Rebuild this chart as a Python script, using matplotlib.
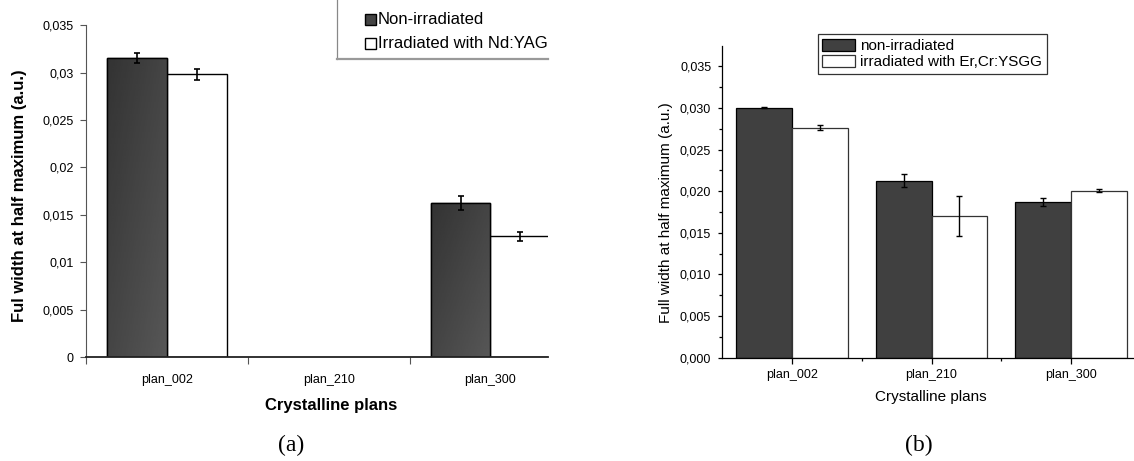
import numpy as np
import matplotlib
matplotlib.use('Agg')
import matplotlib.pyplot as plt
from matplotlib.patches import Rectangle
from matplotlib.lines import Line2D

plt.rcParams['font.family'] = ['Liberation Sans', 'DejaVu Sans']

# dados
planos = ['plan_002', 'plan_210', 'plan_300']

# (a) Nd:YAG  (plan_210 sem medida)
a_nao = [0.03158, np.nan, 0.01626]
a_nao_err = [0.00053, np.nan, 0.00077]
a_irr = [0.02982, np.nan, 0.01275]
a_irr_err = [0.00058, np.nan, 0.00049]
a_legenda = ['Non-irradiated', 'Irradiated with Nd:YAG']
a_yticks = [0, 0.005, 0.01, 0.015, 0.02, 0.025, 0.03, 0.035]
a_yticklabels = ['0', '0,005', '0,01', '0,015', '0,02', '0,025', '0,03', '0,035']

# (b) Er,Cr:YSGG
b_nao = [0.03007, 0.02129, 0.01869]
b_nao_err = [0.0001, 0.00075, 0.0005]
b_irr = [0.02766, 0.01708, 0.02007]
b_irr_err = [0.00034, 0.0024, 0.00018]
b_legenda = ['non-irradiated', 'irradiated with Er,Cr:YSGG']
b_yticks = [0, 0.005, 0.01, 0.015, 0.02, 0.025, 0.03, 0.035]
b_yticklabels = ['0,000', '0,005', '0,010', '0,015', '0,020', '0,025', '0,030', '0,035']

W, H = 1134, 461
fig = plt.figure(figsize=(W / 100, H / 100), dpi=100)


def fx(px):
    return px / W


def fy(py):
    return 1 - py / H


x = np.arange(len(planos))

# ---------------- painel (a) ----------------
axa = fig.add_axes([fx(86.4), fy(357), (548 - 86.4) / W, (357 - 25.3) / H])
wa = 0.37
bars_nao = axa.bar(x - wa / 2, a_nao, wa, color='#444444', edgecolor='black', linewidth=1.0, zorder=2)
axa.bar(x + wa / 2, a_irr, wa, color='white', edgecolor='black', linewidth=1.0, zorder=2)

# degradê estilo Excel nas barras escuras (escuro em cima/esquerda)
grad = np.add.outer(np.linspace(0, 1, 50), np.linspace(0, 1, 50)) / 2
for b in bars_nao:
    if np.isnan(b.get_height()):
        continue
    x0, y0 = b.get_x(), b.get_y()
    im = axa.imshow(grad, extent=[x0, x0 + b.get_width(), y0, y0 + b.get_height()],
                    cmap='gray', vmin=-1.43, vmax=5.71, aspect='auto', origin='upper', zorder=2.1)
    im.set_clip_path(b)
axa.bar(x - wa / 2, a_nao, wa, fill=False, edgecolor='black', linewidth=1.0, zorder=2.2)

axa.errorbar(x - wa / 2, a_nao, yerr=a_nao_err, fmt='none', ecolor='black', elinewidth=1.2, capsize=2.2, capthick=1.2, zorder=3)
axa.errorbar(x + wa / 2, a_irr, yerr=a_irr_err, fmt='none', ecolor='black', elinewidth=1.2, capsize=2.2, capthick=1.2, zorder=3)

axa.set_xlim(-0.5, -0.5 + (548 - 86.4) / 161.6)
axa.set_ylim(0, 0.035)
axa.set_yticks(a_yticks)
axa.set_yticklabels(a_yticklabels)
axa.set_xticks(x)
axa.set_xticklabels(planos)
axa.set_xticks([-0.5, 0.5, 1.5], minor=True)
axa.tick_params(axis='x', which='major', length=0, pad=12, labelsize=9)
axa.tick_params(axis='x', which='minor', length=5, width=0.8, color='#555555', direction='out')
axa.tick_params(axis='y', length=4, width=0.8, color='#555555', pad=5, labelsize=9)
for s in ['top', 'right']:
    axa.spines[s].set_visible(False)
axa.spines['left'].set_color('#555555')
axa.spines['left'].set_linewidth(0.8)
axa.spines['bottom'].set_color('#222222')
axa.spines['bottom'].set_linewidth(1.3)

fig.text(fx(19.6), fy(196), 'Ful width at half maximum (a.u.)', rotation=90,
         ha='center', va='center', fontsize=12, fontweight='bold')
fig.text(fx(331), fy(405), 'Crystalline plans', ha='center', va='center', fontsize=12, fontweight='bold')
fig.text(fx(291), fy(445), '(a)', ha='center', va='center', fontsize=17, family='Liberation Serif')

# legenda (a) cortada na borda, como no original
cores_a = ['#444444', 'white']
ys_a = [20, 44]
for lab, cor, yy in zip(a_legenda, cores_a, ys_a):
    fig.patches.append(Rectangle((fx(365), fy(yy + 5.5)), 11 / W, 11 / H, transform=fig.transFigure,
                                 facecolor=cor, edgecolor='black', linewidth=1.0))
    fig.text(fx(377.5), fy(yy), lab, ha='left', va='center', fontsize=12)
fig.lines.append(Line2D([fx(336.7), fx(336.7)], [fy(0), fy(59)], transform=fig.transFigure, color='#888888', linewidth=0.9))
fig.lines.append(Line2D([fx(336.7), fx(548)], [fy(59.3), fy(59.3)], transform=fig.transFigure, color='#999999', linewidth=1.6))

# ---------------- painel (b) ----------------
axb = fig.add_axes([fx(722.3), fy(357.7), (1134 - 722.3) / W, (357.7 - 45.7) / H])
wb = 0.4
axb.bar(x - wb / 2, b_nao, wb, color='#404040', edgecolor='black', linewidth=0.9, label=b_legenda[0], zorder=2)
axb.bar(x + wb / 2, b_irr, wb, color='white', edgecolor='#333333', linewidth=0.9, label=b_legenda[1], zorder=2)
axb.errorbar(x - wb / 2, b_nao, yerr=b_nao_err, fmt='none', ecolor='black', elinewidth=1.0, capsize=2.5, capthick=1.0, zorder=3)
axb.errorbar(x + wb / 2, b_irr, yerr=b_irr_err, fmt='none', ecolor='black', elinewidth=1.0, capsize=2.5, capthick=1.0, zorder=3)

axb.set_xlim(-0.5, -0.5 + (1134 - 722.3) / 139.5)
axb.set_ylim(0, 0.0375)
axb.set_yticks(b_yticks)
axb.set_yticklabels(b_yticklabels)
axb.set_yticks(np.arange(0.0025, 0.0375, 0.005), minor=True)
axb.set_xticks(x)
axb.set_xticklabels(planos)
axb.set_xticks([0.5, 1.5], minor=True)
axb.tick_params(axis='x', which='major', length=4, width=0.9, pad=4, labelsize=9)
axb.tick_params(axis='x', which='minor', length=2, width=0.9)
axb.tick_params(axis='y', which='major', length=3, width=0.9, pad=5, labelsize=9)
axb.tick_params(axis='y', which='minor', length=2, width=0.9)
for s in ['top', 'right']:
    axb.spines[s].set_visible(False)
for s in ['left', 'bottom']:
    axb.spines[s].set_linewidth(0.9)

fig.text(fx(665.8), fy(212.5), 'Full width at half maximum (a.u.)', rotation=90,
         ha='center', va='center', fontsize=11)
fig.text(fx(931), fy(397), 'Crystalline plans', ha='center', va='center', fontsize=11)
fig.text(fx(918.5), fy(445), '(b)', ha='center', va='center', fontsize=17, family='Liberation Serif')

leg = axb.legend(loc='upper left', bbox_to_anchor=(fx(817.7), fy(34.3)), bbox_transform=fig.transFigure,
                 fontsize=11, frameon=True, fancybox=False, edgecolor='black', borderaxespad=0,
                 borderpad=0.3, handlelength=2.15, handleheight=0.8, handletextpad=0.35, labelspacing=0.15)
leg.get_frame().set_linewidth(0.9)

fig.savefig('out.png', dpi=100)
